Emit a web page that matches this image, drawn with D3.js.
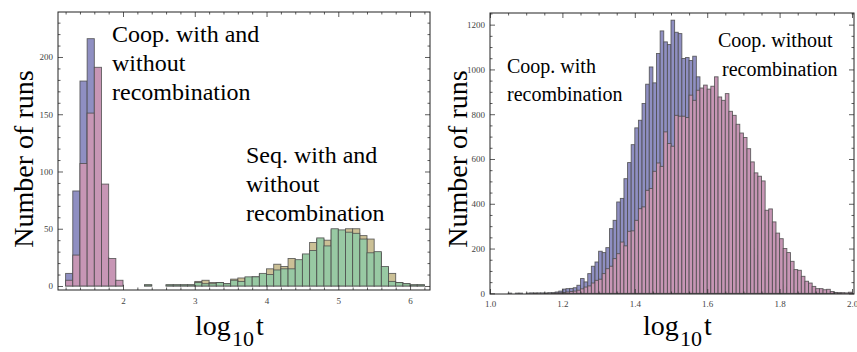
<!DOCTYPE html>
<html>
<head>
<meta charset="utf-8">
<script src="https://cdn.jsdelivr.net/npm/d3@7"></script>
<style>
  body { margin: 0; background: #fff; }
  svg { display: block; }
  text { font-family: "Liberation Serif", "Times New Roman", serif; }
</style>
</head>
<body>
<svg id="chart"></svg>
<script>
// ---- Left panel: cooperative vs sequential runs (bins of 0.1) ----
const coopBins = [1.2, 1.3, 1.4, 1.5, 1.6, 1.7, 1.8, 1.9];
const coopWithRec = [11, 83, 179, 216, 80, 25, 5, 1];
const coopWithoutRec = [5, 27, 107, 151, 191, 89, 24, 5];

const seqBins = [2.3, 2.4, 2.5, 2.6, 2.7, 2.8, 2.9, 3.0, 3.1, 3.2, 3.3, 3.4, 3.5, 3.6, 3.7, 3.8, 3.9,
                 4.0, 4.1, 4.2, 4.3, 4.4, 4.5, 4.6, 4.7, 4.8, 4.9, 5.0, 5.1, 5.2, 5.3, 5.4, 5.5,
                 5.6, 5.7, 5.8, 5.9, 6.0, 6.1];
const seqWithRec = [1, 0, 0, 1, 1, 1, 1, 4, 5, 3, 3, 2, 6, 7, 7, 8, 10,
                    15, 19, 17, 24, 22, 27, 38, 41, 40, 49, 48, 50, 50, 44, 41, 29,
                    16, 11, 3, 2, 1, 1];
const seqWithoutRec = [1, 0, 0, 1, 1, 1, 1, 3, 2, 2, 3, 2, 5, 4, 8, 8, 11,
                       10, 14, 15, 15, 23, 28, 31, 42, 35, 50, 49, 47, 46, 41, 29, 30,
                       17, 4, 3, 2, 1, 1];

const leftXTicks = [2, 3, 4, 5, 6];
const leftYTicks = [0, 50, 100, 150, 200];

// ---- Right panel: cooperative runs only (bins of 0.01, from 1.00 to 1.99) ----
const rightBins = d3.range(100).map(i => +(1 + i * 0.01).toFixed(2));
const rightWithRec = [
  0, 0, 0, 0, 0,   1, 0, 1, 1, 0,
  1, 2, 1, 2, 2,   1, 3, 3, 6, 10,
  19, 21, 22, 25, 36,   66, 51, 88, 121, 140,
  188, 182, 204, 289, 326,   408, 424, 512, 584, 664,
  739, 773, 848, 934, 1011,   940, 1071, 1172, 1123, 1111,
  1220, 1166, 1160, 1049, 1053,   1040, 1059, 967, 890, 850,
  800, 760, 700, 640, 590,   530, 480, 420, 370, 320,
  280, 240, 200, 170, 140,   115, 95, 75, 60, 47,
  37, 28, 21, 16, 12,   9, 7, 5, 4, 3,
  2, 2, 1, 1, 1,   0, 1, 0, 0, 0
];
const rightWithoutRec = [
  0, 0, 0, 0, 0,   0, 0, 0, 0, 0,
  0, 0, 1, 0, 0,   1, 0, 1, 2, 3,
  4, 6, 8, 10, 14,   20, 28, 33, 46, 58,
  63, 88, 110, 121, 155,   177, 229, 212, 277, 279,
  326, 378, 386, 460, 468,   545, 582, 567, 721, 669,
  657, 795, 791, 791, 785,   885, 862, 907, 917, 930,
  912, 925, 967, 877, 862,   892, 813, 795, 755, 716,
  696, 646, 587, 538, 523,   502, 371, 377, 319, 269,
  244, 200, 182, 143, 106,   103, 76, 54, 46, 31,
  21, 21, 16, 18, 8,   4, 3, 3, 2, 5
];

const rightXTicks = [1.0, 1.2, 1.4, 1.6, 1.8, 2.0];
const rightYTicks = [0, 200, 400, 600, 800, 1000, 1200];

// colours (Mathematica default chart palette)
const colBlue = "#8f8fc2";
const colPink = "#c796b5";
const colTan = "#cbc096";
const colGreen = "#98c9a3";

const width = 857;
const height = 352;

const svg = d3.select("#chart").attr("width", width).attr("height", height);

/**
 * Draw one framed histogram panel
 */
function drawPanel(p) {
  const g = svg.append("g");

  const x = d3.scaleLinear().domain(p.xDomain).range([p.left, p.right]);
  const y = d3.scaleLinear().domain(p.yDomain).range([p.bottom, p.top]);

  // bars, series in drawing order (later ones on top)
  p.series.forEach(s => {
    g.append("g")
      .selectAll("rect")
      .data(s.bins.map((b, i) => [b, s.values[i]]).filter(d => d[1] > 0))
      .enter()
      .append("rect")
      .attr("x", d => x(d[0]))
      .attr("width", d => x(d[0] + s.binWidth) - x(d[0]))
      .attr("y", d => y(d[1]))
      .attr("height", d => y(0) - y(d[1]))
      .attr("fill", s.color)
      .attr("stroke", "#4a4a4a")
      .attr("stroke-width", 0.9)
      .attr("stroke-opacity", 0.85);
  });

  const majorLen = 5;
  const minorLen = 2.5;
  const fmt = p.xFormat;

  const xMinor = p.xMinor.filter(v => !p.xTicks.some(t => Math.abs(t - v) < 1e-6));
  const yMinor = p.yMinor.filter(v => !p.yTicks.some(t => Math.abs(t - v) < 1e-6));

  // bottom
  g.append("g")
    .attr("transform", "translate(0," + p.bottom + ")")
    .call(d3.axisBottom(x).tickValues(p.xTicks).tickFormat(fmt).tickSizeInner(-majorLen).tickSizeOuter(0).tickPadding(p.xPad))
    .call(a => a.select(".domain").remove());
  g.append("g")
    .attr("transform", "translate(0," + p.bottom + ")")
    .call(d3.axisBottom(x).tickValues(xMinor).tickFormat("").tickSizeInner(-minorLen).tickSizeOuter(0))
    .call(a => a.select(".domain").remove());
  // top
  g.append("g")
    .attr("transform", "translate(0," + p.top + ")")
    .call(d3.axisTop(x).tickValues(p.xTicks).tickFormat("").tickSizeInner(-majorLen).tickSizeOuter(0))
    .call(a => a.select(".domain").remove());
  g.append("g")
    .attr("transform", "translate(0," + p.top + ")")
    .call(d3.axisTop(x).tickValues(xMinor).tickFormat("").tickSizeInner(-minorLen).tickSizeOuter(0))
    .call(a => a.select(".domain").remove());
  // left
  g.append("g")
    .attr("transform", "translate(" + p.left + ",0)")
    .call(d3.axisLeft(y).tickValues(p.yTicks).tickFormat(d3.format("d")).tickSizeInner(-majorLen).tickSizeOuter(0).tickPadding(5))
    .call(a => a.select(".domain").remove());
  g.append("g")
    .attr("transform", "translate(" + p.left + ",0)")
    .call(d3.axisLeft(y).tickValues(yMinor).tickFormat("").tickSizeInner(-minorLen).tickSizeOuter(0))
    .call(a => a.select(".domain").remove());
  // right
  g.append("g")
    .attr("transform", "translate(" + p.right + ",0)")
    .call(d3.axisRight(y).tickValues(p.yTicks).tickFormat("").tickSizeInner(-majorLen).tickSizeOuter(0))
    .call(a => a.select(".domain").remove());
  g.append("g")
    .attr("transform", "translate(" + p.right + ",0)")
    .call(d3.axisRight(y).tickValues(yMinor).tickFormat("").tickSizeInner(-minorLen).tickSizeOuter(0))
    .call(a => a.select(".domain").remove());

  g.selectAll(".tick line").attr("stroke", "#333").attr("stroke-width", 0.8);
  g.selectAll(".tick text")
    .attr("font-family", "Liberation Serif, serif")
    .attr("font-size", 9)
    .attr("fill", "#444");

  // frame
  g.append("rect")
    .attr("x", p.left)
    .attr("y", p.top)
    .attr("width", p.right - p.left)
    .attr("height", p.bottom - p.top)
    .attr("fill", "none")
    .attr("stroke", "#222")
    .attr("stroke-width", 1);

  // y title
  g.append("text")
    .attr("transform", "translate(" + p.yTitleX + ",159) rotate(-90)")
    .attr("text-anchor", "middle")
    .attr("font-size", 28)
    .attr("fill", "#000")
    .text("Number of runs");

  // x title: log_10 t
  const xt = g.append("text").attr("font-size", 28).attr("fill", "#000");
  xt.append("tspan").attr("x", p.xTitleX).attr("y", 335).text("log");
  xt.append("tspan").attr("x", p.xTitleX + 37).attr("y", 346).attr("font-size", 22).text("10");
  xt.append("tspan").attr("x", p.xTitleX + 61).attr("y", 335).text("t");

  // annotations
  p.notes.forEach(n => {
    const t = g.append("text").attr("font-size", n.size).attr("fill", "#000");
    n.lines.forEach((line, i) => {
      t.append("tspan").attr("x", n.x[i]).attr("y", n.y[i]).text(line);
    });
  });
}

drawPanel({
  left: 58, right: 430, top: 12, bottom: 290,
  xDomain: [1.094, 6.278], yDomain: [-3.5, 239.3],
  xTicks: leftXTicks, yTicks: leftYTicks,
  xMinor: d3.range(1.2, 6.3, 0.2), yMinor: d3.range(0, 240, 10),
  xFormat: d3.format("d"), xPad: 8,
  yTitleX: 33, xTitleX: 195,
  series: [
    { bins: coopBins, values: coopWithRec, binWidth: 0.1, color: colBlue },
    { bins: coopBins, values: coopWithoutRec, binWidth: 0.1, color: colPink },
    { bins: seqBins, values: seqWithRec, binWidth: 0.1, color: colTan },
    { bins: seqBins, values: seqWithoutRec, binWidth: 0.1, color: colGreen }
  ],
  notes: [
    { lines: ["Coop. with and", "without", "recombination"], x: [112, 112, 112], y: [42, 71, 100], size: 24 },
    { lines: ["Seq. with and", "without", "recombination"], x: [246, 246, 246], y: [163, 192, 221], size: 24 }
  ]
});

drawPanel({
  left: 490, right: 854, top: 13, bottom: 294,
  xDomain: [1.0, 2.0055], yDomain: [-3, 1252],
  xTicks: rightXTicks, yTicks: rightYTicks,
  xMinor: d3.range(1.0, 2.001, 0.05), yMinor: d3.range(0, 1251, 50),
  xFormat: d3.format(".1f"), xPad: 7,
  yTitleX: 467, xTitleX: 643,
  series: [
    { bins: rightBins, values: rightWithRec, binWidth: 0.01, color: colBlue },
    { bins: rightBins, values: rightWithoutRec, binWidth: 0.01, color: colPink }
  ],
  notes: [
    { lines: ["Coop. with", "recombination"], x: [507, 507], y: [73, 101], size: 20 },
    { lines: ["Coop. without", "recombination"], x: [718, 722], y: [47, 76], size: 20 }
  ]
});
</script>
</body>
</html>
